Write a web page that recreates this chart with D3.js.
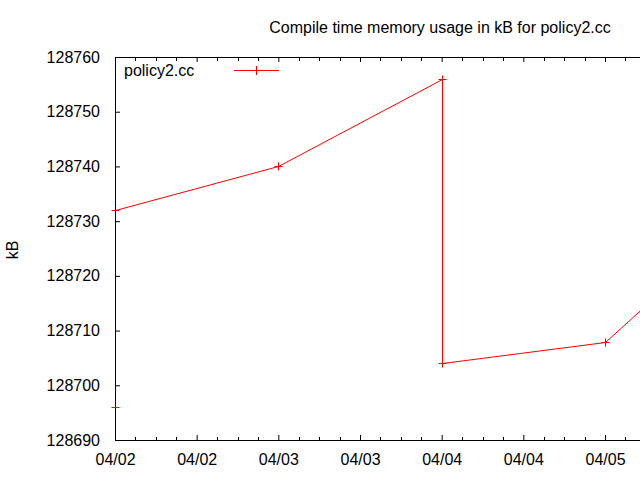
<!DOCTYPE html>
<html>
<head>
<meta charset="utf-8">
<script src="https://cdn.jsdelivr.net/npm/d3@7"></script>
<style>
body { margin: 0; background: #fff; }
text { font-family: "Liberation Sans", Arial, sans-serif; font-size: 16px; fill: #000; }
</style>
</head>
<body>
<div class="cont"></div>
<script>
var w = 640,
h = 480;

// data
var dates = ["04/02 00:00", "04/02 00:00", "04/03 00:00", "04/04 00:00", "04/04 00:00", "04/05 00:00", "04/06 00:00"];
var kb = [128696, 128732, 128740, 128756, 128704, 128708, 128735];
var yTicks = [128690, 128700, 128710, 128720, 128730, 128740, 128750, 128760];
var seriesName = "policy2.cc";
var title = "Compile time memory usage in kB for policy2.cc";

var parse = d3.timeParse("%m/%d %H:%M");
var pts = dates.map(function (d, i) {return {t: parse(d), v: kb[i]};});

var pLeft = 115, pTop = 57, pBottom = 440;

var xScale = d3.scaleTime().
domain([parse("04/02 00:00"), parse("04/05 12:00")]).
range([pLeft, pLeft + 84 * 490 / 72]);

var yScale = d3.scaleLinear().
domain([128690, 128760]).
range([pBottom, pTop]);

var svg = d3.select(".cont").append("svg").
attr("width", w).
attr("height", h);

svg.append("defs").append("clipPath").
attr("id", "clip").
append("rect").
attr("x", pLeft - 5).
attr("y", pTop).
attr("width", w - pLeft + 5).
attr("height", pBottom - pTop);

// half-pixel offset so that lines sit on the same pixels as the axes
function px(d) {return Math.round(xScale(d.t)) + 0.5;}
function py(d) {return Math.round(yScale(d.v)) + 0.5;}

var line = d3.line().x(px).y(py);

var plot = svg.append("g").attr("clip-path", "url(#clip)");

plot.append("path").
datum(pts).
attr("fill", "none").
attr("stroke", "#ff0000").
attr("stroke-width", 1).
attr("d", line);

plot.selectAll(".pt").
data(pts).
enter().append("path").
attr("class", "pt").
attr("fill", "none").
attr("stroke", "#ff0000").
attr("d", function (d) {
  var x = px(d), y = py(d);
  return "M" + (x - 4) + "," + y + "H" + (x + 4) + "M" + x + "," + (y - 4) + "V" + (y + 4);
});

// axes, ticks pointing inward like gnuplot
var major = xScale.ticks(d3.timeHour.every(12)).filter(function (t) {return xScale(t) < w;});
var minor = xScale.ticks(d3.timeHour.every(3)).filter(function (t) {return t.getHours() % 12 != 0 && xScale(t) < w;});

var xAxis = d3.axisBottom(xScale).
tickValues(major).
tickSize(-5).
tickPadding(14).
tickFormat(d3.timeFormat("%m/%d"));

var gx = svg.append("g").
attr("transform", "translate(0," + pBottom + ")").
call(xAxis);

gx.selectAll(".minor").
data(minor).
enter().append("line").
attr("class", "minor").
attr("x1", function (d) {return Math.round(xScale(d)) + 0.5;}).
attr("x2", function (d) {return Math.round(xScale(d)) + 0.5;}).
attr("y1", 0.5).
attr("y2", -3).
attr("stroke", "#000");

var gTop = svg.append("g").
attr("transform", "translate(0," + pTop + ")").
call(d3.axisTop(xScale).tickValues(major).tickSize(-5).tickFormat(""));
gTop.selectAll(".minor").
data(minor).
enter().append("line").
attr("class", "minor").
attr("x1", function (d) {return Math.round(xScale(d)) + 0.5;}).
attr("x2", function (d) {return Math.round(xScale(d)) + 0.5;}).
attr("y1", 0.5).
attr("y2", 4).
attr("stroke", "#000");

var gy = svg.append("g").
attr("transform", "translate(" + pLeft + ",0)").
call(d3.axisLeft(yScale).tickValues(yTicks).tickSize(-5).tickPadding(15).tickFormat(d3.format("d")));

svg.selectAll(".domain").attr("stroke", "#000");
svg.selectAll(".tick line").attr("stroke", "#000");
svg.selectAll(".tick text").style("font-family", "Liberation Sans, Arial, sans-serif").style("font-size", "16px");
gx.select(".domain").attr("d", "M" + pLeft + ",0.5H" + w);
gTop.select(".domain").attr("d", "M" + pLeft + ",0.5H" + w);
gy.select(".domain").attr("d", "M0.5," + pTop + "V" + pBottom);

// title, y label, legend
svg.append("text").
attr("x", 440).
attr("y", 33).
attr("text-anchor", "middle").
text(title);

svg.append("text").
attr("transform", "translate(18,250) rotate(-90)").
attr("text-anchor", "middle").
text("kB");

svg.append("text").
attr("x", 124).
attr("y", 76).
text(seriesName);

svg.append("line").
attr("x1", 234).
attr("x2", 279).
attr("y1", 70.5).
attr("y2", 70.5).
attr("stroke", "#ff0000");
svg.append("line").
attr("x1", 256.5).
attr("x2", 256.5).
attr("y1", 66).
attr("y2", 75).
attr("stroke", "#ff0000");
</script>
</body>
</html>
